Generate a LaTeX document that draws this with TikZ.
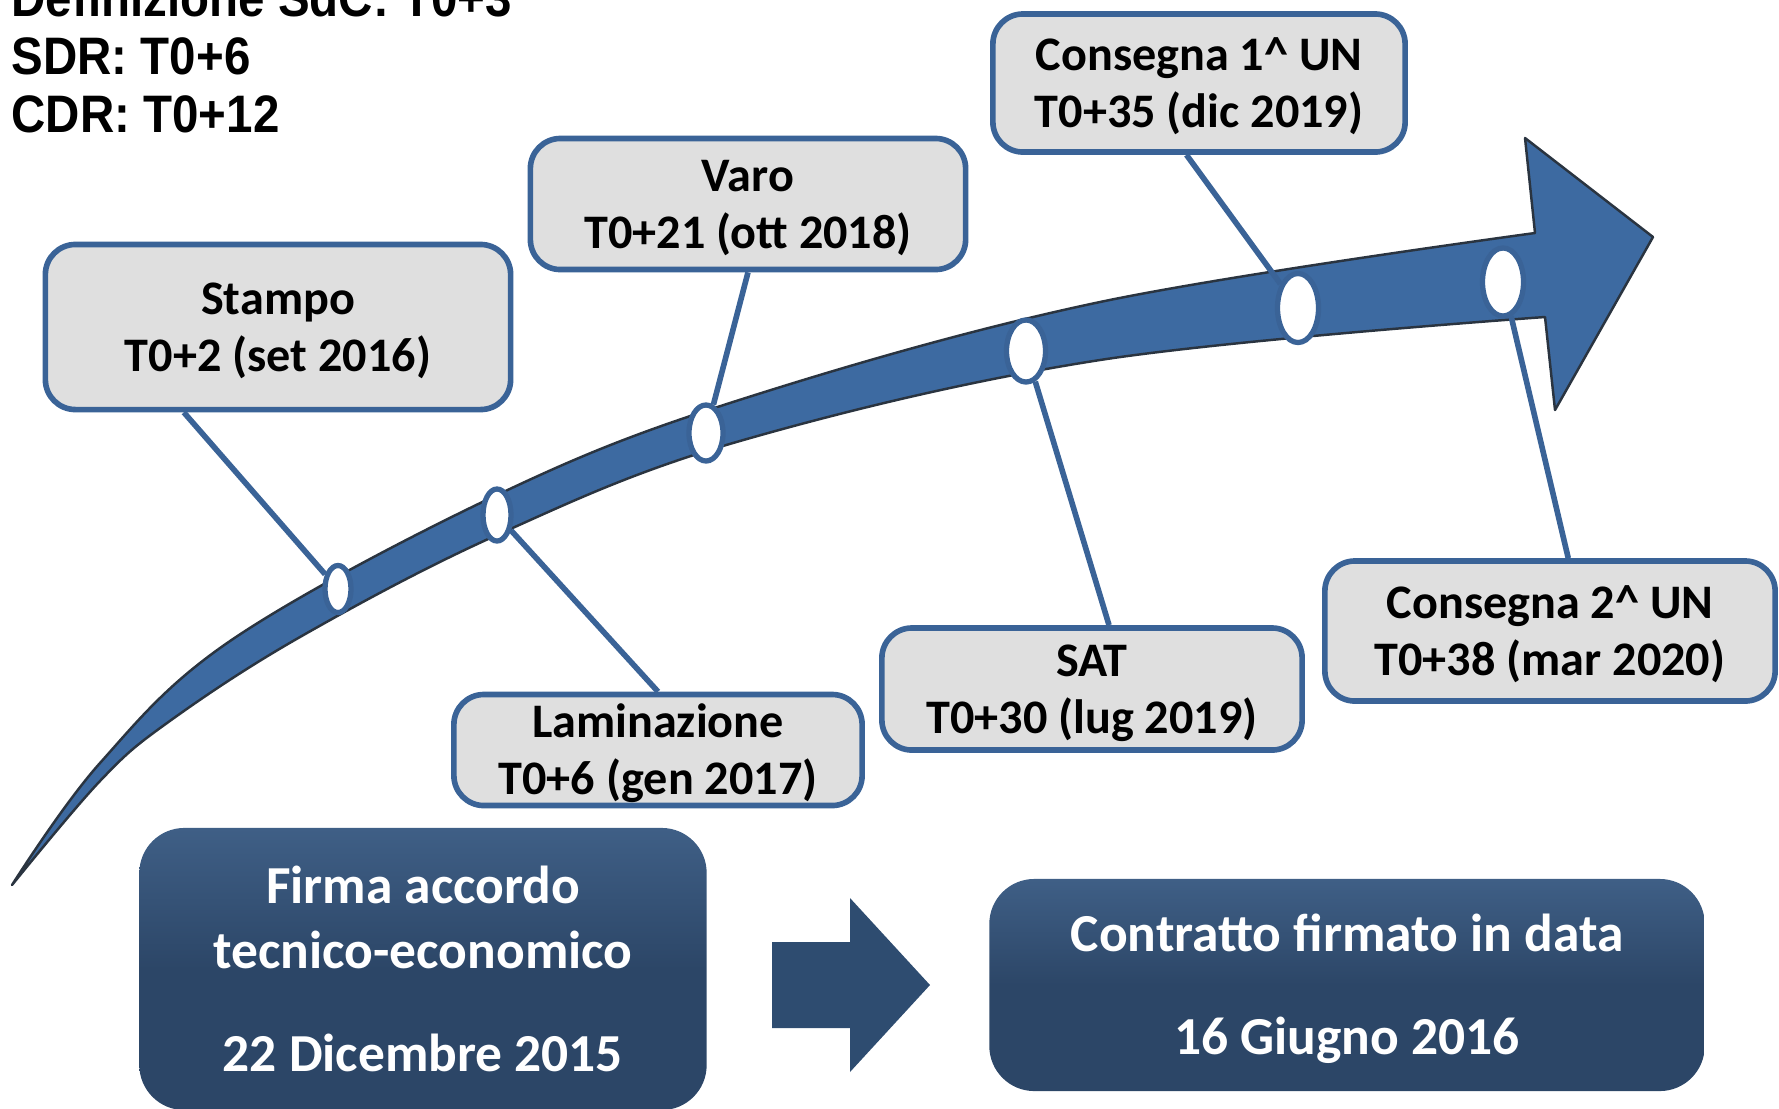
\documentclass[tikz,border=0pt]{standalone}
\usepackage{fontspec}
\setmainfont{Carlito}
\newfontfamily\headfont{Liberation Sans}[FakeStretch=0.9]
\usepackage{tikz}
\usetikzlibrary{shapes.geometric}
\usetikzlibrary{calc}
\definecolor{bandblue}{HTML}{3D6AA1}
\definecolor{bandedge}{HTML}{2A3440}
\definecolor{rimblue}{HTML}{3A6397}
\definecolor{boxgrey}{HTML}{DFDFDF}
\definecolor{navy}{HTML}{2C4667}
\definecolor{navytop}{HTML}{3F5F86}
\definecolor{navyarrow}{HTML}{2E4C70}

\begin{document}
\begin{tikzpicture}[x=0.01cm, y=-0.01cm]
	\useasboundingbox (0,0) rectangle (1779,1108);
	% curved timeline arrow
	\filldraw[fill=bandblue, draw=bandedge, line width=0.7pt, line join=round]
		plot[smooth, tension=0.6] coordinates {(12,885) (100,763) (233,639) (497,495) (733,402) (1100,302) (1535,233)}
		-- (1525,138) -- (1653,237) -- (1555,410) -- (1545,317)
		-- plot[smooth, tension=0.6] coordinates {(1545,317) (1100,360) (733,443) (497,535) (300,637) (167,723) (100,781) (12,885)}
		-- cycle;
	\fill[navyarrow] (772,942) -- (850,942) -- (850,898) -- (930,985) -- (850,1072) -- (850,1028) -- (772,1028) -- cycle;
	\begin{scope}[every node/.style = {rectangle, rounded corners=0.45cm, top color=navytop, bottom color=navy, middle color=navy,
			text=white, align=center, inner sep=0pt, font=\fontsize{15.2}{18.5}\selectfont\bfseries}]
		\node[minimum width=5.67cm, minimum height=2.82cm] (P) at (423,969) {Firma accordo\\tecnico-economico\\[10.8pt]22 Dicembre 2015};
		\node[minimum width=7.15cm, minimum height=2.12cm] (Q) at (1347,985) {\strut Contratto firmato in data\\[10.8pt]16 Giugno 2016};
	\end{scope}
	\begin{scope}[every node/.style = {rectangle, rounded corners=0.3cm, draw=rimblue, fill=boxgrey, line width=1.6pt,
			align=center, inner sep=0pt, font=\fontsize{13.7}{16.2}\selectfont\bfseries}]
		\node[minimum width=4.65cm, minimum height=1.65cm] (A) at (278,327) {\strut Stampo\\T0+2 (set 2016)};
		\node[minimum width=4.08cm, minimum height=1.11cm] (B) at (658,750) {\strut Laminazione\\T0+6 (gen 2017)};
		\node[minimum width=4.35cm, minimum height=1.31cm] (C) at (748,204) {\strut Varo\\T0+21 (ott 2018)};
		\node[minimum width=4.20cm, minimum height=1.22cm] (D) at (1092,689) {\strut SAT\\T0+30 (lug 2019)};
		\node[minimum width=4.12cm, minimum height=1.38cm] (E) at (1199,83) {\strut Consegna 1\^{} UN\\T0+35 (dic 2019)};
		\node[minimum width=4.50cm, minimum height=1.40cm] (F) at (1550,631) {\strut Consegna 2\^{} UN\\T0+38 (mar 2020)};
	\end{scope}
	\begin{scope}[every node/.style = {ellipse, draw=rimblue, fill=white, line width=1.5pt, inner sep=0pt}]
		\node[minimum width=0.26cm, minimum height=0.47cm] (a) at (338,589) {};
		\node[minimum width=0.28cm, minimum height=0.52cm] (b) at (497,515) {};
		\node[minimum width=0.34cm, minimum height=0.56cm] (c) at (706,433) {};
		\node[minimum width=0.39cm, minimum height=0.62cm] (d) at (1026,351) {};
		\node[minimum width=0.41cm, minimum height=0.69cm] (e) at (1298,308) {};
		\node[minimum width=0.41cm, minimum height=0.68cm] (f) at (1503,282) {};
	\end{scope}
	\begin{scope}[every edge/.style = {draw=rimblue, line width=1.6pt}]
		\path [-] ($(A.south west)!0.3!(A.south east)$) edge (a);
		\path [-] (B.north) edge (b);
		\path [-] (C.south) edge (c);
		\path [-] ($(D.north west)!0.54!(D.north east)$) edge (d);
		\path [-] ($(E.south west)!0.47!(E.south east)$) edge (e);
		\path [-] ($(F.north west)!0.54!(F.north east)$) edge (f);
	\end{scope}
	\begin{scope}[every node/.style = {anchor=base west, inner sep=0pt, font=\headfont\fontsize{15}{18}\selectfont\bfseries}]
		\node (R1) at (11,16) {Definizione SdC: T0+3};
		\node (R2) at (11,74) {SDR: T0+6};
		\node (R3) at (11,132) {CDR: T0+12};
	\end{scope}
\end{tikzpicture}
\end{document}
